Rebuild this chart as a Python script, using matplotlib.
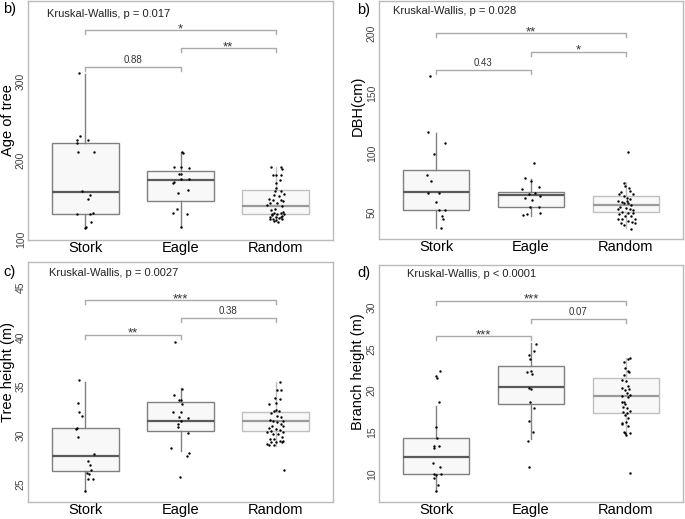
import matplotlib
matplotlib.use("Agg")
import matplotlib.pyplot as plt

plt.rcParams['font.family'] = ['Liberation Sans', 'DejaVu Sans']

groups = ["Stork", "Eagle", "Random"]

# ---------------- Panel b) Age of tree ----------------
age_stork = [310.5, 230.8, 225.8, 221.6, 225.8, 211.1, 211.1, 161.6, 156.6, 151.6,
             131.4, 131.4, 133.5, 121.8, 115.9, 113.8]
age_stork_off = [-0.06, -0.05, -0.09, -0.09, 0.03, -0.08, 0.09, -0.03, 0.05, 0.03,
                 -0.09, 0.05, 0.08, 0.06, 0.01, 0.0]
age_eagle = [211.1, 209.9, 191.0, 191.4, 190.1, 183.0, 182.2, 176.7, 172.1, 170.9,
             158.7, 162.1, 132.7, 137.7, 132.3, 115.5, 176.7]
age_eagle_off = [0.02, 0.03, -0.07, 0.0, 0.09, -0.02, 0.0, 0.09, -0.07, -0.08,
                 -0.03, 0.08, -0.08, -0.04, 0.07, 0.01, 0.0]
age_random = [191.4, 191.4, 189.3, 181.8, 180.9, 181.8, 175.5, 171.3, 165.0, 161.6,
              161.6, 157.4, 156.6, 154.5, 151.2, 150.3, 149.5, 148.2, 146.1, 145.3,
              142.8, 141.9, 137.7, 136.5, 133.5, 133.5, 134.8, 132.3, 131.4, 131.4,
              128.5, 128.1, 128.5, 126.0, 127.3, 125.2, 124.3, 125.2, 123.1, 121.8,
              129.4, 130.2]
age_random_off = [-0.05, 0.05, 0.06, -0.03, 0.0, 0.05, 0.04, 0.0, 0.0, -0.01,
                  0.05, 0.09, -0.02, 0.03, -0.07, -0.03, 0.05, 0.08, -0.06, 0.01,
                  -0.09, 0.07, -0.01, -0.05, -0.02, 0.05, 0.08, -0.04, 0.01, 0.09,
                  -0.06, 0.0, 0.05, -0.03, 0.03, -0.06, 0.0, 0.07, -0.02, 0.02,
                  0.06, -0.04]
age_q1 = [131.4, 148.2, 131.4]
age_med = [159.5, 175.5, 142.0]
age_q3 = [221.6, 186.0, 162.0]
age_lo = [114.7, 115.5, 123.0]
age_hi = [309.7, 211.0, 191.5]
age_br_y = [318, 342, 365]
age_br_lab = ["0.88", "**", "*"]

# ---------------- Panel b) DBH ----------------
dbh_stork = [163.9, 117.2, 108.3, 99.2, 81.9, 76.4, 66.7, 66.7, 59.2, 51.9, 51.9, 47.2, 45.0, 36.9]
dbh_stork_off = [-0.06, -0.08, 0.09, -0.02, -0.09, -0.05, -0.08, 0.03, 0.0, 0.03, 0.09, 0.06, 0.07, 0.05]
dbh_eagle = [91.7, 78.6, 76.9, 71.7, 70.0, 66.1, 65.3, 61.9, 63.9, 60.6, 55.0, 55.0, 49.2, 47.8, 50.0]
dbh_eagle_off = [0.03, -0.06, 0.0, 0.08, -0.09, 0.04, -0.02, -0.06, 0.09, 0.01, -0.01, 0.08, -0.04, -0.08, 0.09]
dbh_random = [100.6, 75.0, 72.2, 70.3, 67.5, 68.1, 65.8, 65.8, 63.9, 62.5, 61.7, 59.7, 59.2,
              57.8, 57.8, 56.4, 55.0, 54.2, 52.8, 53.3, 52.2, 50.8, 50.0, 50.0, 48.6, 47.2,
              47.2, 45.0, 44.4, 43.0, 41.7, 42.2, 41.1, 39.4, 36.7, 44.4, 59.7]
dbh_random_off = [0.02, -0.02, -0.01, 0.03, -0.05, 0.04, -0.07, 0.07, -0.02, 0.01, 0.04, -0.08, -0.04,
                  -0.02, 0.02, 0.05, -0.06, 0.0, -0.08, 0.04, 0.07, -0.04, 0.02, 0.07, -0.07, -0.01,
                  0.05, -0.04, 0.09, 0.02, -0.05, 0.06, 0.09, -0.02, 0.05, -0.08, 0.01]
dbh_q1 = [51.9, 55.0, 50.8]
dbh_med = [67.2, 64.4, 56.1]
dbh_q3 = [86.1, 67.5, 63.9]
dbh_lo = [37.2, 47.2, 37.2]
dbh_hi = [116.7, 77.8, 75.6]
dbh_br_y = [169.4, 184.7, 200.0]
dbh_br_lab = ["0.43", "*", "**"]

# ---------------- Panel c) Tree height ----------------
ht_stork = [35.6, 33.3, 32.3, 31.9, 30.7, 29.8, 28.1, 27.4, 27.0, 26.5, 26.1, 26.0, 25.5, 25.5, 24.3, 30.6]
ht_stork_off = [-0.06, -0.08, -0.06, -0.03, -0.09, -0.08, 0.09, 0.03, 0.05, 0.06, 0.02, 0.04, 0.03, 0.08, 0.0, -0.1]
ht_eagle = [39.5, 34.7, 34.1, 33.6, 33.6, 33.2, 32.3, 32.4, 31.8, 31.7, 31.4, 31.1, 30.8, 30.2, 28.7, 28.2, 27.9, 25.7]
ht_eagle_off = [-0.06, 0.02, -0.07, -0.02, 0.01, 0.02, -0.08, 0.01, -0.02, 0.08, 0.0, -0.03, -0.03, 0.08, -0.1, 0.09, 0.07, -0.01]
ht_random = [35.4, 34.6, 34.6, 33.8, 33.7, 33.2, 33.3, 32.6, 32.5, 32.5, 32.2, 31.9, 31.8, 31.5, 31.4,
             31.4, 31.3, 31.1, 30.9, 30.9, 30.7, 30.6, 30.5, 30.4, 30.3, 30.3, 30.1, 30.1, 29.8, 29.6,
             29.6, 29.4, 29.4, 29.3, 29.3, 29.3, 29.0, 29.0, 26.5, 29.1]
ht_random_off = [0.04, 0.01, 0.05, -0.01, 0.04, -0.07, 0.0, 0.0, -0.02, 0.03, -0.05, 0.01, 0.05, -0.06, -0.03,
                 0.08, 0.01, 0.05, -0.04, 0.08, -0.07, 0.0, 0.04, -0.05, 0.08, -0.09, -0.03, 0.02, 0.06, -0.02,
                 -0.06, 0.04, 0.08, -0.05, 0.0, 0.07, -0.07, -0.02, 0.09, -0.09]
ht_q1 = [26.4, 30.4, 30.4]
ht_med = [27.9, 31.4, 31.4]
ht_q3 = [30.7, 33.4, 32.4]
ht_lo = [24.3, 28.4, 28.9]
ht_hi = [35.4, 34.8, 35.4]
ht_br_y = [40.2, 41.9, 43.7]
ht_br_lab = ["**", "0.38", "***"]

# ---------------- Panel d) Branch height ----------------
br_stork = [22.3, 21.8, 21.5, 18.7, 15.6, 14.4, 13.4, 13.4, 13.1, 11.3, 10.9, 10.1, 10.1, 9.9, 9.6, 8.7, 8.0]
br_stork_off = [0.04, 0.0, 0.01, 0.03, 0.0, 0.01, -0.02, 0.03, -0.02, -0.03, 0.04, -0.02, 0.05, 0.0, -0.02, 0.02, 0.0]
br_eagle = [25.6, 24.7, 24.2, 23.8, 22.4, 22.2, 22.0, 20.3, 20.2, 18.7, 17.9, 16.4, 15.1, 14.0, 10.9]
br_eagle_off = [0.05, 0.03, -0.02, -0.01, 0.0, -0.04, 0.01, -0.02, 0.0, -0.01, 0.03, -0.02, 0.02, -0.03, -0.02]
br_random = [23.9, 23.8, 23.4, 22.7, 22.4, 22.2, 21.9, 21.3, 21.1, 20.6, 20.3, 20.2, 20.1, 19.7, 19.5,
             19.3, 19.2, 18.7, 18.6, 18.4, 18.1, 17.6, 17.3, 17.1, 16.7, 16.3, 16.1, 15.8, 15.0, 14.9,
             14.9, 14.7, 10.2, 17.5, 17.9, 16.0]
br_random_off = [0.04, 0.02, -0.02, -0.01, 0.02, 0.03, -0.02, -0.04, 0.0, 0.02, -0.04, 0.03, -0.01, 0.01, 0.04,
                 -0.04, 0.02, -0.04, -0.02, -0.01, -0.03, 0.04, 0.01, -0.01, 0.02, 0.0, -0.04, 0.02, -0.02, -0.01,
                 0.04, 0.0, 0.04, -0.03, 0.01, -0.04]
br_q1 = [10.0, 18.35, 17.3]
br_med = [12.07, 20.4, 19.3]
br_q3 = [14.37, 22.96, 21.45]
br_lo = [8.0, 14.2, 14.8]
br_hi = [18.2, 25.7, 23.9]
br_br_y = [26.5, 28.6, 30.7]
br_br_lab = ["***", "0.07", "***"]

bracket_pairs = [(0, 1), (1, 2), (0, 2)]

panels = [
    dict(rect=[28/685, 1-240/519, 305/685, 239/519], tag="b)", tagpos=(3, 9),
         ylabel="Age of tree", ylabpos=(-0.042, 0.5), ylim=(99, 402), ticks=[100, 200, 300],
         kw="Kruskal-Wallis, p = 0.017", kwpos=(0.6, 386),
         pts=[(age_stork, age_stork_off), (age_eagle, age_eagle_off), (age_random, age_random_off)],
         q1=age_q1, med=age_med, q3=age_q3, lo=age_lo, hi=age_hi, bry=age_br_y, brl=age_br_lab),
    dict(rect=[379/685, 1-239/519, 304/685, 238/519], tag="b)", tagpos=(357, 10),
         ylabel="DBH(cm)", ylabpos=(-0.046, 0.56), ylim=(28, 227), ticks=[50, 100, 150, 200],
         kw="Kruskal-Wallis, p = 0.028", kwpos=(0.55, 219),
         pts=[(dbh_stork, dbh_stork_off), (dbh_eagle, dbh_eagle_off), (dbh_random, dbh_random_off)],
         q1=dbh_q1, med=dbh_med, q3=dbh_q3, lo=dbh_lo, hi=dbh_hi, bry=dbh_br_y, brl=dbh_br_lab),
    dict(rect=[28/685, 1-502/519, 305/685, 240/519], tag="c)", tagpos=(3, 272),
         ylabel="Tree height (m)", ylabpos=(-0.043, 0.54), ylim=(23.2, 47.6), ticks=[25, 30, 35, 40, 45],
         kw="Kruskal-Wallis, p = 0.0027", kwpos=(0.62, 46.5),
         pts=[(ht_stork, ht_stork_off), (ht_eagle, ht_eagle_off), (ht_random, ht_random_off)],
         q1=ht_q1, med=ht_med, q3=ht_q3, lo=ht_lo, hi=ht_hi, bry=ht_br_y, brl=ht_br_lab),
    dict(rect=[379/685, 1-502/519, 304/685, 237/519], tag="d)", tagpos=(357, 273),
         ylabel="Branch height (m)", ylabpos=(-0.046, 0.55), ylim=(6.7, 35), ticks=[10, 15, 20, 25, 30],
         kw="Kruskal-Wallis, p < 0.0001", kwpos=(0.69, 33.9),
         pts=[(br_stork, br_stork_off), (br_eagle, br_eagle_off), (br_random, br_random_off)],
         q1=br_q1, med=br_med, q3=br_q3, lo=br_lo, hi=br_hi, bry=br_br_y, brl=br_br_lab),
]

fig = plt.figure(figsize=(6.85, 5.19), dpi=100)

edge_cols = ["#808080", "#808080", "#c0c0c0"]
med_cols = ["#5a5a5a", "#5a5a5a", "#9a9a9a"]

for p in panels:
    ax = fig.add_axes(p["rect"])
    pos = [1, 2, 3]
    for i in range(3):
        st = [dict(med=p["med"][i], q1=p["q1"][i], q3=p["q3"][i],
                   whislo=p["lo"][i], whishi=p["hi"][i], fliers=[], label=groups[i])]
        ax.bxp(st, positions=[pos[i]], widths=0.7, patch_artist=True, showcaps=False,
               boxprops=dict(facecolor="#f8f8f8", edgecolor=edge_cols[i], linewidth=1.0),
               medianprops=dict(color=med_cols[i], linewidth=1.6),
               whiskerprops=dict(color=edge_cols[i], linewidth=1.0), zorder=2)
        vals, offs = p["pts"][i]
        ax.scatter([pos[i] + o for o in offs], vals, s=3, color="black", zorder=3, linewidths=0)
    ax.set_xlim(0.4, 3.6)
    ax.set_ylim(*p["ylim"])
    ax.set_xticks(pos)
    ax.set_xticklabels(groups, fontsize=10.5, color="black")
    ax.set_yticks(p["ticks"])
    ax.set_yticklabels([str(t) for t in p["ticks"]], rotation=90, va="center",
                       fontsize=7.5, color="#444444")
    ax.tick_params(axis="both", length=0)
    ax.tick_params(axis="x", pad=1)
    ax.tick_params(axis="y", pad=1.5)
    for s in ax.spines.values():
        s.set_color("#bbbbbb")
        s.set_linewidth(1.0)
    ax.set_ylabel(p["ylabel"], fontsize=10.5)
    ax.yaxis.set_label_coords(*p["ylabpos"])
    rng = p["ylim"][1] - p["ylim"][0]
    tip = 0.017 * rng
    for (a, b), y, lab in zip(bracket_pairs, p["bry"], p["brl"]):
        ax.plot([a + 1, a + 1, b + 1, b + 1], [y - tip, y, y, y - tip], color="#aaaaaa", lw=1.0, zorder=1)
        if lab.startswith("*"):
            ax.annotate(lab, ((a + b) / 2 + 1, y), xytext=(0, -3.5), textcoords="offset points",
                        ha="center", va="bottom", fontsize=9.5, color="#333333")
        else:
            ax.annotate(lab, ((a + b) / 2 + 1, y), xytext=(0, 1.5), textcoords="offset points",
                        ha="center", va="bottom", fontsize=7, color="#333333")
    ax.text(p["kwpos"][0], p["kwpos"][1], p["kw"], ha="left", va="center", fontsize=8, color="#222222")
    fig.text(p["tagpos"][0] / 685, 1 - p["tagpos"][1] / 519, p["tag"], ha="left", va="center",
             fontsize=10.5, color="black")

fig.savefig("out.png", dpi=100)
